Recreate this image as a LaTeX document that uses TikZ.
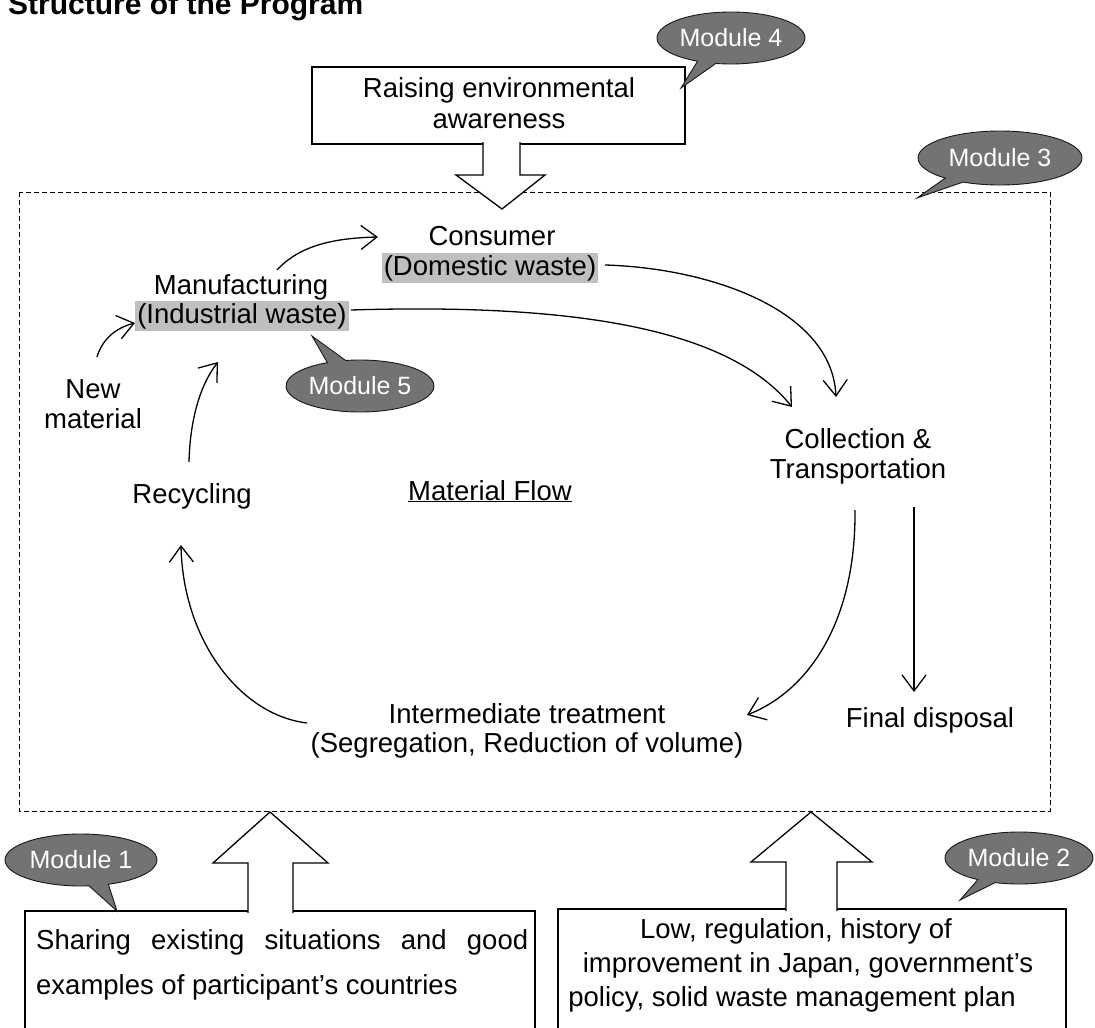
\documentclass[tikz,border=0pt]{standalone}
\usepackage{fontspec}
\setmainfont{Liberation Sans}
\usetikzlibrary{shapes.callouts,arrows.meta}
\begin{document}
\begin{tikzpicture}[x=1pt,y=-1pt,
  txt/.style={font=\fontsize{27.5}{30}\selectfont, inner sep=0pt, anchor=base},
  flow/.style={line width=1.3pt, -{Straight Barb[length=16pt,width=24pt,line width=1.3pt]}},
  bubble/.style={ellipse callout, fill=black!55, draw=black!90, line width=0.9pt, text=white,
     font=\fontsize{25}{25}\selectfont, minimum width=148pt, minimum height=52pt, inner sep=0pt},
  hollow/.style={line width=1.3pt, fill=white, line join=miter},
  boxline/.style={line width=1.3pt},
  hl/.style={fill=black!25, inner sep=2pt},
  dashbox/.style={line width=1pt, dash pattern=on 5pt off 3pt}
]
\useasboundingbox (0,0) rectangle (1095,1028);
\fill[white] (0,0) rectangle (1095,1028);

% title (cut off at the top, as in the reference)
\node[font=\bfseries\fontsize{30}{30}\selectfont, anchor=base west, inner sep=0pt] (title) at (8,14) {Structure of the Program};

% dashed region (Module 3)
\draw[dashbox] (19,192) rectangle (1050,811);

% top box
\draw[boxline] (312,67) rectangle (685,144);
\draw[hollow] (483,142) -- (483,175) -- (456,175) -- (502,209) -- (545,175) -- (520,175) -- (520,142);
\node[txt] (aware1) at (499,97) {Raising environmental};
\node[txt] (aware2) at (499,128) {awareness};

% bottom boxes
\draw[boxline] (25,1040) -- (25,911) -- (535,911) -- (535,1040);
\draw[boxline] (558,1040) -- (558,909) -- (1066,909) -- (1066,1040);
\draw[hollow] (248,913) -- (248,863) -- (213,863) -- (270,812) -- (328,863) -- (293,863) -- (293,913);
\draw[hollow] (786,911) -- (786,862) -- (751,862) -- (811,812) -- (872,862) -- (837,862) -- (837,911);

\node[txt, anchor=base west] (share1) at (36,949) {\makebox[492pt][s]{Sharing existing situations and good}};
\node[txt, anchor=base west] (share2) at (36,994) {examples of participant's countries};

\node[txt] (low1) at (796,938) {Low, regulation, history of};
\node[txt] (low2) at (808,972) {improvement in Japan, government's};
\node[txt] (low3) at (792,1006) {policy, solid waste management plan};

% material flow texts
\node[txt] (cons1) at (492,245) {Consumer};
\node[txt, hl] (cons2) at (490,275) {(Domestic waste)};
\node[txt] (manu1) at (241,294) {Manufacturing};
\node[txt, hl] (manu2) at (242,323) {(Industrial waste)};
\node[txt] (new1) at (93,398) {New};
\node[txt] (new2) at (93,428) {material};
\node[txt] (recy) at (192,503) {Recycling};
\node[txt] (mflow) at (490,500) {\underline{Material Flow}};
\node[txt] (coll1) at (858,448) {Collection \&};
\node[txt] (coll2) at (858,478) {Transportation};
\node[txt] (inter1) at (527,723) {Intermediate treatment};
\node[txt] (inter2) at (527,752) {(Segregation, Reduction of volume)};
\node[txt] (final) at (930,727) {Final disposal};

% connector end points
\coordinate (mcS) at (277,270);  \coordinate (mcE) at (378,237);
\coordinate (nmS) at (97,357);   \coordinate (nmE) at (135,323);
\coordinate (rmS) at (189,462);  \coordinate (rmE) at (218,362);
\coordinate (irS) at (307,723);  \coordinate (irE) at (181,545);
\coordinate (dcS) at (605,265);  \coordinate (dcE) at (836,397);
\coordinate (icS) at (351,310);  \coordinate (icE) at (792,407);
\coordinate (ciS) at (855,510);  \coordinate (ciE) at (747,715);
\coordinate (cfS) at (914,507);  \coordinate (cfE) at (914,692);

\draw[flow] (mcS) .. controls (300,245) and (335,238) .. (mcE);
\draw[flow] (nmS) .. controls (102,340) and (115,328) .. (nmE);
\draw[flow] (rmS) .. controls (190,420) and (200,385) .. (rmE);
\draw[flow] (irS) .. controls (240,715) and (183,640) .. (irE);
\draw[flow] (dcS) .. controls (710,268) and (832,310) .. (dcE);
\draw[flow] (icS) .. controls (580,303) and (730,330) .. (icE);
\draw[flow] (ciS) .. controls (856,620) and (810,690) .. (ciE);
\draw[flow] (cfS) -- (cfE);

% module bubbles
\node[bubble, callout absolute pointer={(681,88)}] (m4) at (731,38) {Module 4};
\node[bubble, minimum width=164pt, minimum height=54pt, callout absolute pointer={(917,198)}] (m3) at (1000,158) {Module 3};
\node[bubble, callout absolute pointer={(312,336)}] (m5) at (360,386) {Module 5};
\node[bubble, minimum width=152pt, callout absolute pointer={(117,911)}] (m1) at (81,860) {Module 1};
\node[bubble, callout absolute pointer={(960,900)}] (m2) at (1019,858) {Module 2};
\end{tikzpicture}
\end{document}
